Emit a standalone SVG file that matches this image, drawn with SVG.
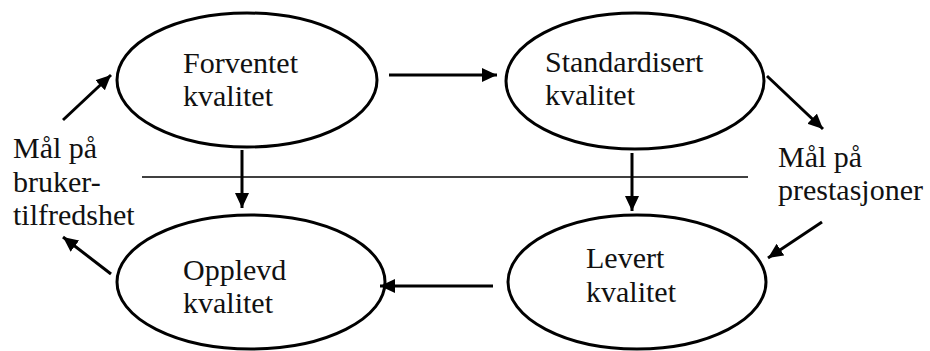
<svg xmlns="http://www.w3.org/2000/svg" width="930" height="351" viewBox="0 0 930 351">
<defs>
<marker id="ah" markerUnits="userSpaceOnUse" markerWidth="16" markerHeight="16" refX="15" refY="7" orient="auto">
<path d="M0,0 L15,7 L0,14 Z" fill="#000"/>
</marker>
<style>
.node ellipse{fill:#fff;stroke:#000;stroke-width:3}
.conn line{stroke:#000;stroke-width:3;marker-end:url(#ah)}
</style>
</defs>
<rect width="930" height="351" fill="#fff"/>
<line x1="142" y1="177" x2="748" y2="177" stroke="#000" stroke-width="1.5"/>
<g font-family="'Liberation Serif', 'Times New Roman', serif" font-size="30" fill="#111">
<g id="forventet" class="node">
<ellipse cx="247" cy="80" rx="130" ry="67"/>
<text x="183" y="73">Forventet</text>
<text x="183" y="106">kvalitet</text>
</g>
<g id="standardisert" class="node">
<ellipse cx="635" cy="81" rx="129" ry="68"/>
<text x="545" y="72">Standardisert</text>
<text x="545" y="105">kvalitet</text>
</g>
<g id="opplevd" class="node">
<ellipse cx="251" cy="282" rx="134" ry="67"/>
<text x="183" y="280">Opplevd</text>
<text x="183" y="313">kvalitet</text>
</g>
<g id="levert" class="node">
<ellipse cx="637" cy="282" rx="129" ry="67"/>
<text x="586" y="268">Levert</text>
<text x="586" y="302">kvalitet</text>
</g>
<g id="maal-bruker">
<text x="13" y="158">Mål på</text>
<text x="13" y="192">bruker-</text>
<text x="13" y="225">tilfredshet</text>
</g>
<g id="maal-prest">
<text x="778" y="167">Mål på</text>
<text x="778" y="200">prestasjoner</text>
</g>
</g>
<g id="connectors" class="conn">
<line x1="389" y1="75" x2="497" y2="75"/>
<line x1="242" y1="150" x2="242" y2="208"/>
<line x1="632" y1="153" x2="632" y2="211"/>
<line x1="493" y1="286" x2="380" y2="286"/>
<line x1="63" y1="120" x2="111" y2="75"/>
<line x1="767" y1="76" x2="823" y2="129"/>
<line x1="111" y1="274" x2="63" y2="237"/>
<line x1="822" y1="222" x2="768" y2="258"/>
</g>
</svg>
